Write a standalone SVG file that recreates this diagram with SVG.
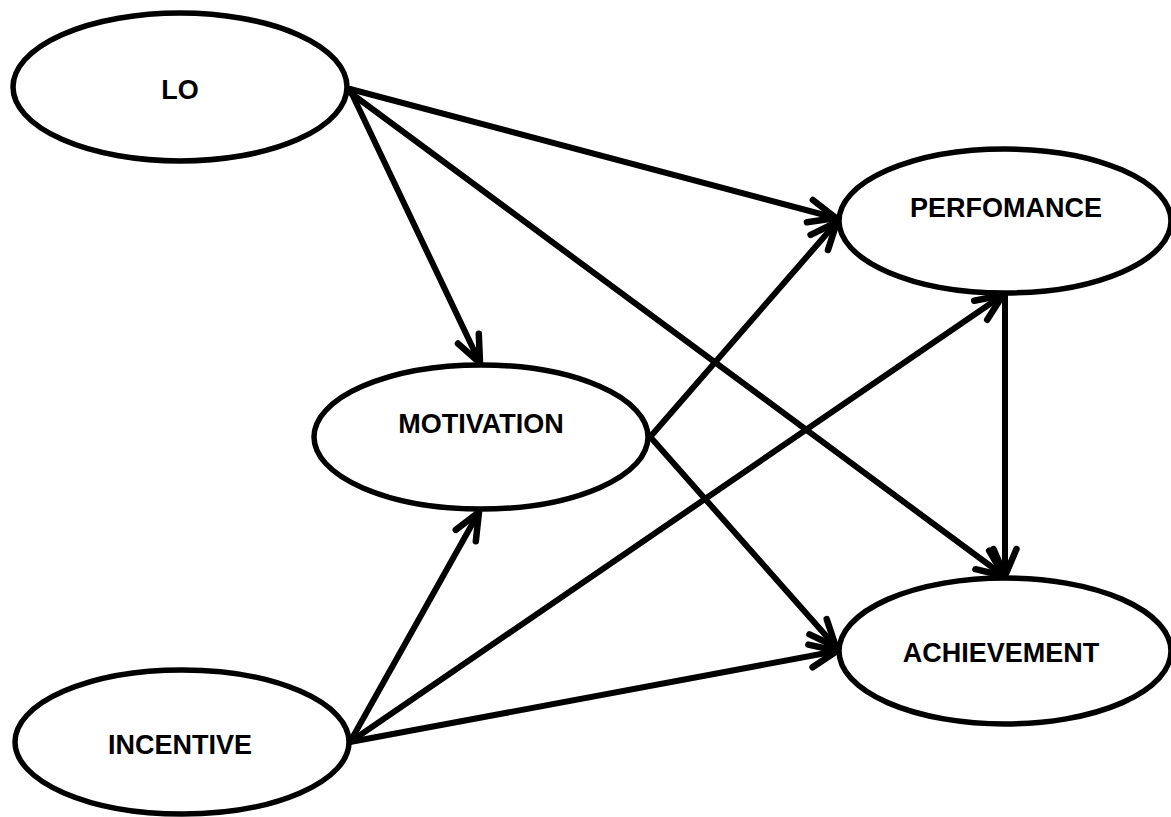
<svg xmlns="http://www.w3.org/2000/svg" width="1171" height="817" viewBox="0 0 1171 817">
<style>
.node ellipse{fill:#fff;stroke:#000;stroke-width:5.5}
.node text{font-family:"Liberation Sans",Arial,sans-serif;font-weight:bold;font-size:27px;fill:#000;text-anchor:middle}
.edges line{stroke:#000;stroke-width:6;stroke-linecap:round;marker-end:url(#arr)}
</style>
<defs>
<marker id="arr" markerUnits="userSpaceOnUse" viewBox="-34 -17 38 34" refX="0" refY="0" markerWidth="38" markerHeight="34" orient="auto">
<path d="M-27,-11.5 L0,0 L-27,11.5" fill="none" stroke="#000" stroke-width="6.5" stroke-linecap="round" stroke-linejoin="round"/>
</marker>
</defs>
<rect width="1171" height="817" fill="#fff"/>
<g class="edges">
<line x1="350" y1="89" x2="836" y2="218"/>
<line x1="352" y1="94" x2="480" y2="363"/>
<line x1="352" y1="94" x2="1004" y2="576"/>
<line x1="651" y1="436" x2="837" y2="222"/>
<line x1="653" y1="440" x2="836" y2="647"/>
<line x1="350" y1="742" x2="479" y2="512"/>
<line x1="350" y1="742" x2="1003" y2="295"/>
<line x1="350" y1="742" x2="837" y2="651"/>
<line x1="1005" y1="295" x2="1005" y2="576"/>
</g>
<g id="lo" class="node"><ellipse cx="180" cy="87" rx="167" ry="74"/><text x="180" y="99">LO</text></g>
<g id="motivation" class="node"><ellipse cx="481" cy="437" rx="167" ry="72"/><text x="481" y="433">MOTIVATION</text></g>
<g id="perfomance" class="node"><ellipse cx="1005" cy="221" rx="166" ry="72"/><text x="1006" y="217">PERFOMANCE</text></g>
<g id="achievement" class="node"><ellipse cx="1005" cy="651" rx="166" ry="73"/><text x="1001" y="662">ACHIEVEMENT</text></g>
<g id="incentive" class="node"><ellipse cx="182" cy="742" rx="167" ry="72"/><text x="180" y="754">INCENTIVE</text></g>
</svg>
